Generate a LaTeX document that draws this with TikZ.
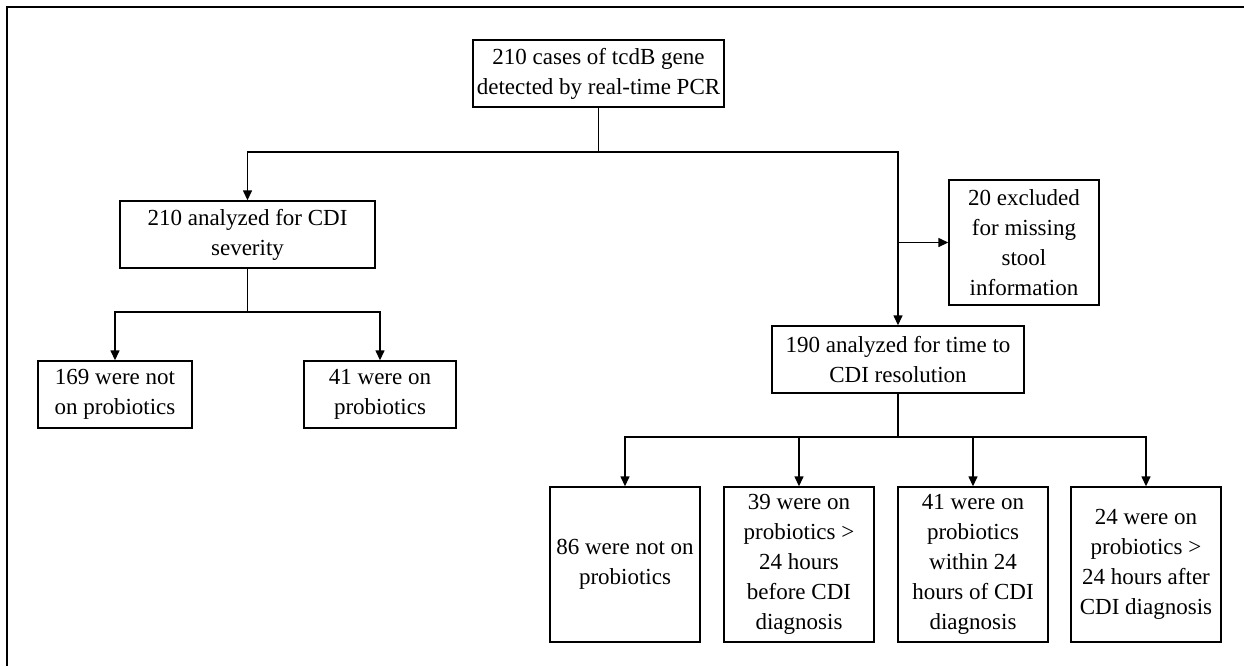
\documentclass[tikz,border=0pt]{standalone}
\usepackage{fontspec}
\setmainfont{Liberation Serif}
\usetikzlibrary{arrows.meta}
\begin{document}
\begin{tikzpicture}[x=0.5pt, y=-0.5pt,
	box/.style={draw, line width=0.7pt, align=center, inner sep=2pt,
		font=\fontsize{11.5}{15}\selectfont},
	arr/.style={-{Triangle[length=5pt,width=4.5pt]}},
	line width=0.7pt]
	\useasboundingbox (0,0) rectangle (1244,666);
	%frame
	\draw[line width=1pt] (7,666) -- (7,7) -- (1244,7);
	
	%top level
	\node[box, minimum width=125.5pt, minimum height=33.5pt] (cases) at (598.5,73.5)
		{210 cases of tcdB gene\\detected by real-time PCR};
	
	%left branch
	\node[box, minimum width=127.5pt, minimum height=33.5pt] (severity) at (247.5,234.5)
		{210 analyzed for CDI\\severity};
	\node[box, minimum width=77pt, minimum height=33.5pt] (sevnot) at (115,394.5)
		{169 were not\\on probiotics};
	\node[box, minimum width=76pt, minimum height=33.5pt] (sevon) at (380,394.5)
		{41 were on\\probiotics};
	
	%right branch
	\node[box, minimum width=75pt, minimum height=62.5pt] (excluded) at (1024,242.5)
		{20 excluded\\for missing\\stool\\information};
	\node[box, minimum width=126pt, minimum height=33.5pt] (resol) at (898,359.5)
		{190 analyzed for time to\\CDI resolution};
	\node[box, minimum width=75pt, minimum height=77.5pt] (resnot) at (625,564.5)
		{86 were not on\\probiotics};
	\node[box, minimum width=75pt, minimum height=77.5pt] (resbefore) at (799,564.5)
		{39 were on\\probiotics >\\24 hours\\before CDI\\diagnosis};
	\node[box, minimum width=75pt, minimum height=77.5pt] (reswithin) at (973,564.5)
		{41 were on\\probiotics\\within 24\\hours of CDI\\diagnosis};
	\node[box, minimum width=75pt, minimum height=77.5pt] (resafter) at (1146,564.5)
		{24 were on\\probiotics >\\24 hours after\\CDI diagnosis};
	
	%connectors
	\coordinate (split) at (598.5,152);
	\draw (cases) -- (split);
	\draw[arr] (split) -| (severity);
	\draw[arr] (split) -| (resol);
	\coordinate (exclpt) at (898,242.5);
	\draw[arr] (exclpt) -- (excluded);
	
	\coordinate (sevsplit) at (247.5,312);
	\draw (severity) -- (sevsplit);
	\draw[arr] (sevsplit) -| (sevnot);
	\draw[arr] (sevsplit) -| (sevon);
	
	\coordinate (ressplit) at (898,437);
	\draw (resol) -- (ressplit);
	\foreach \n in {resnot, resbefore, reswithin, resafter}{
		\draw[arr] (ressplit) -| (\n);
	}
\end{tikzpicture}
\end{document}
